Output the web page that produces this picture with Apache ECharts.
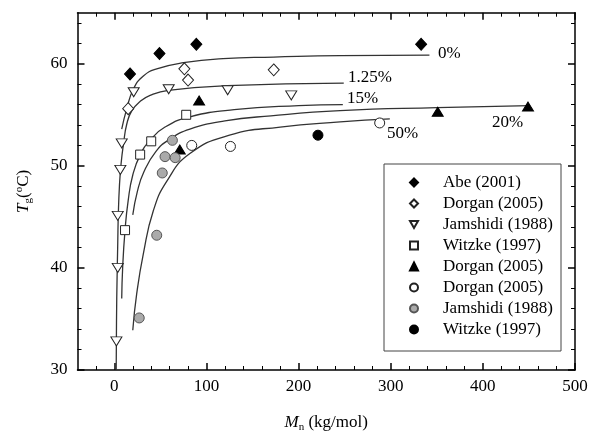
<!DOCTYPE html>
<html>
<head>
<meta charset="utf-8">
<script src="https://cdn.jsdelivr.net/npm/echarts@6/dist/echarts.min.js"></script>
<style>
  html, body { margin: 0; padding: 0; background: #fff; }
  #chart { width: 590px; height: 434px; }
</style>
</head>
<body>
<div id="chart"></div>
<script>
// Measured glass transition temperatures, [Mn (kg/mol), Tg (°C)]
const abe2001 = [[17, 59.0], [49, 61.0], [89, 61.9], [333, 61.9]];
const dorgan2005Diamond = [[15, 55.6], [76, 59.5], [80, 58.4], [173, 59.4]];
const jamshidi1988Open = [[2.2, 32.8], [3.7, 40.0], [3.7, 45.1], [6.5, 49.6], [8, 52.2], [21, 57.2], [59, 57.5], [123, 57.4], [192, 56.9]];
const witzke1997Open = [[11.6, 43.7], [28, 51.1], [40, 52.4], [78, 55.0]];
const dorgan2005Triangle = [[71, 51.6], [92, 56.4], [351, 55.3], [449, 55.8]];
const dorgan2005Circle = [[84, 52.0], [126, 51.9], [288, 54.2]];
const jamshidi1988Gray = [[27, 35.1], [46, 43.2], [52, 49.3], [55, 50.9], [63, 52.5], [66, 50.8]];
const witzke1997Filled = [[221, 53.0]];

// Fitted curves for each D-content level
const fit0 = [[8, 53.6], [13.5, 55.6], [20.6, 57.5], [31.5, 58.8], [46, 59.5], [75, 60.1], [118, 60.5], [173, 60.65], [245, 60.8], [342, 60.85]];
const fit125 = [[2, 30], [2.2, 32.8], [2.6, 37], [3.7, 42.5], [4.3, 45.2], [5.5, 48], [7.3, 50.2], [10, 52.2], [13.5, 54.1], [19, 55.4], [27.9, 56.3], [38.8, 56.9], [58.6, 57.4], [122.7, 57.85], [249, 58.1]];
const fit15 = [[8, 37.0], [9, 40], [11.6, 43.7], [15, 46.6], [20, 49.1], [28.2, 51.1], [39.8, 52.6], [55, 53.8], [82, 54.8], [130, 55.5], [200, 55.9], [248, 56.0]];
const fit20 = [[20, 45.2], [25, 47.5], [32, 49.4], [45, 51.4], [60, 52.6], [82, 53.6], [120, 54.4], [170, 54.9], [245, 55.4], [350, 55.7], [451, 55.9]];
const fit50 = [[20, 33.9], [24.3, 37.5], [31.5, 41.4], [42.3, 45.6], [57, 48.5], [82, 51.2], [125, 53.0], [180, 53.8], [245, 54.3], [299, 54.6]];

const fitLabels = ['0%', '1.25%', '15%', '20%', '50%'];

// Axis ticks
const xMajor = [0, 100, 200, 300, 400, 500];
const xMinor = [-20, 20, 40, 60, 80, 120, 140, 160, 180, 220, 240, 260, 280, 320, 340, 360, 380, 420, 440, 460, 480];
const yMajor = [30, 40, 50, 60];
const yMinor = [32, 34, 36, 38, 42, 44, 46, 48, 52, 54, 56, 58, 62, 64];

const legendText = {
  s1: 'Abe (2001)', s2: 'Dorgan (2005)', s3: 'Jamshidi (1988)', s4: 'Witzke (1997)',
  s5: 'Dorgan (2005)', s6: 'Dorgan (2005)', s7: 'Jamshidi (1988)', s8: 'Witzke (1997)'
};

const FONT = '"Liberation Serif", "Times New Roman", serif';
const GRID = { left: 77.5, right: 15, top: 12.7, bottom: 64, outerBoundsMode: 'none', containLabel: false };

function frameAxis(pos, grid, ticks, len, extra) {
  return Object.assign({
    type: 'value', gridIndex: grid, position: pos,
    axisLine: { show: grid === 0, onZero: false, lineStyle: { color: '#000', width: 1.5 } },
    axisTick: { show: true, inside: true, length: len, customValues: ticks, lineStyle: { color: '#000', width: grid === 0 ? 1.5 : 1 } },
    axisLabel: { show: false },
    splitLine: { show: false }
  }, extra);
}

const xExt = { min: -40, max: 500 };
const yExt = { min: 30, max: 65 };

function scatter(name, data, symbol, fill, stroke, size, rotate) {
  return {
    name, type: 'scatter', data, symbol, symbolSize: size, symbolRotate: rotate || 0,
    xAxisIndex: 0, yAxisIndex: 0, z: 5,
    itemStyle: { color: fill, borderColor: stroke, borderWidth: 1, opacity: 1 }
  };
}

function fitLine(data) {
  return {
    type: 'line', data, xAxisIndex: 0, yAxisIndex: 0, z: 3,
    showSymbol: false, symbol: 'none', smooth: 0.5,
    lineStyle: { color: '#333', width: 1.3 }, silent: true
  };
}

const chart = echarts.init(document.getElementById('chart'), null, { renderer: 'canvas' });

chart.setOption({
  animation: false,
  backgroundColor: '#fff',
  grid: [Object.assign({}, GRID), Object.assign({}, GRID)],
  xAxis: [
    frameAxis('bottom', 0, xMajor, 7, Object.assign({
      axisLabel: { show: true, customValues: xMajor, margin: 8, color: '#000', fontFamily: FONT, fontSize: 17 },
      name: '{i|M}{s|n} (kg/mol)', nameLocation: 'middle', nameGap: 43,
      nameTextStyle: {
        color: '#000', fontFamily: FONT, fontSize: 17, lineHeight: 20,
        rich: {
          i: { fontStyle: 'italic', fontFamily: FONT, fontSize: 17, lineHeight: 20, color: '#000' },
          s: { fontFamily: FONT, fontSize: 11, lineHeight: 11, verticalAlign: 'bottom', color: '#000' }
        }
      }
    }, xExt)),
    frameAxis('top', 0, xMajor, 7, Object.assign({}, xExt)),
    frameAxis('bottom', 1, xMinor, 4, Object.assign({}, xExt)),
    frameAxis('top', 1, xMinor, 4, Object.assign({}, xExt))
  ],
  yAxis: [
    frameAxis('left', 0, yMajor, 7, Object.assign({
      axisLabel: { show: true, customValues: yMajor, margin: 10, color: '#000', fontFamily: FONT, fontSize: 17 },
      name: '{i|T}{s|g}({p|o}C)', nameLocation: 'middle', nameGap: 44, nameRotate: 90,
      nameTextStyle: {
        color: '#000', fontFamily: FONT, fontSize: 17, lineHeight: 20,
        rich: {
          i: { fontStyle: 'italic', fontFamily: FONT, fontSize: 17, lineHeight: 20, color: '#000' },
          s: { fontFamily: FONT, fontSize: 11, lineHeight: 11, verticalAlign: 'bottom', color: '#000' },
          p: { fontFamily: FONT, fontSize: 11, lineHeight: 11, verticalAlign: 'top', color: '#000' }
        }
      }
    }, yExt)),
    frameAxis('right', 0, yMajor, 7, Object.assign({}, yExt)),
    frameAxis('left', 1, yMinor, 4, Object.assign({}, yExt)),
    frameAxis('right', 1, yMinor, 4, Object.assign({}, yExt))
  ],
  legend: {
    data: ['s1', 's2', { name: 's3', icon: 'path://M0,0L10,0L5,8.66Z' }, 's4', 's5', 's6', 's7', 's8'],
    orient: 'vertical', left: 409, top: 174, padding: 0,
    itemWidth: 8, itemHeight: 8, itemGap: 4,
    symbolKeepAspect: true,
    selectedMode: false,
    formatter: name => legendText[name],
    textStyle: { fontFamily: FONT, fontSize: 17, lineHeight: 17, color: '#000', padding: [0, 0, 0, 20] }
  },
  graphic: [
    { type: 'rect', shape: { x: 384, y: 164, width: 177, height: 187 }, style: { fill: 'none', stroke: '#444', lineWidth: 1 }, z: 1 },
    { type: 'text', x: 438, y: 53.5, style: { text: fitLabels[0], font: '17px ' + FONT, fill: '#000', align: 'left', verticalAlign: 'middle' } },
    { type: 'text', x: 348, y: 77.7, style: { text: fitLabels[1], font: '17px ' + FONT, fill: '#000', align: 'left', verticalAlign: 'middle' } },
    { type: 'text', x: 347, y: 98.3, style: { text: fitLabels[2], font: '17px ' + FONT, fill: '#000', align: 'left', verticalAlign: 'middle' } },
    { type: 'text', x: 492, y: 122.7, style: { text: fitLabels[3], font: '17px ' + FONT, fill: '#000', align: 'left', verticalAlign: 'middle' } },
    { type: 'text', x: 387, y: 133.3, style: { text: fitLabels[4], font: '17px ' + FONT, fill: '#000', align: 'left', verticalAlign: 'middle' } }
  ],
  series: [
    fitLine(fit0), fitLine(fit125), fitLine(fit15), fitLine(fit20), fitLine(fit50),
    scatter('s1', abe2001, 'diamond', '#000', '#000', [11, 12]),
    scatter('s2', dorgan2005Diamond, 'diamond', '#fff', '#222', [11, 12]),
    scatter('s3', jamshidi1988Open, 'triangle', '#fff', '#222', [11, 9], 180),
    scatter('s4', witzke1997Open, 'rect', '#fff', '#222', 9),
    scatter('s5', dorgan2005Triangle, 'triangle', '#000', '#000', [11, 9]),
    scatter('s6', dorgan2005Circle, 'circle', '#fff', '#222', 10),
    scatter('s7', jamshidi1988Gray, 'circle', '#aaa', '#555', 10),
    scatter('s8', witzke1997Filled, 'circle', '#000', '#000', 10)
  ]
});
</script>
</body>
</html>
